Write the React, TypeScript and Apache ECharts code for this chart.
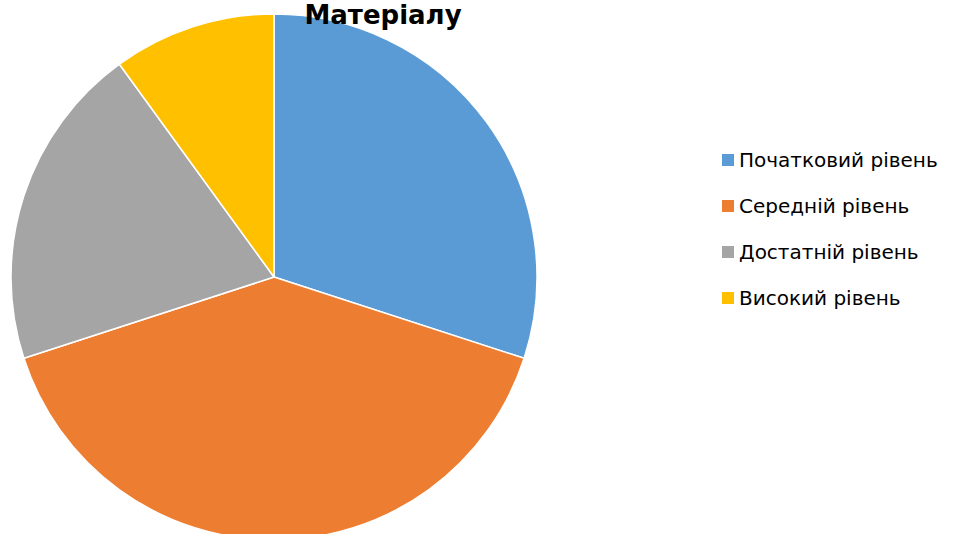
import React, { useEffect, useRef } from "react";
import * as echarts from "echarts";

const categories = ["Початковий рівень", "Середній рівень", "Достатній рівень", "Високий рівень"];
const values = [30, 40, 20, 10];
const colors = ["#5B9BD5", "#ED7D31", "#A5A5A5", "#FFC000"];
const titleText = "Матеріалу";

export default function App() {
  const ref = useRef<HTMLDivElement>(null);
  useEffect(() => {
    if (!ref.current) return;
    const chart = echarts.init(ref.current, undefined, { renderer: "svg" });
    chart.setOption({
      animation: false,
      backgroundColor: "#ffffff",
      title: {
        text: titleText,
        left: 383,
        textAlign: "center",
        top: 0,
        padding: 0,
        textStyle: { fontFamily: "DejaVu Sans", fontWeight: "bold", fontSize: 26, lineHeight: 30, color: "#000000" },
      },
      legend: {
        orient: "vertical",
        left: 715,
        top: 145,
        itemWidth: 14,
        itemHeight: 14,
        itemGap: 26,
        icon: "rect",
        data: categories,
        textStyle: { fontFamily: "DejaVu Sans", fontSize: 20, color: "#000000", padding: [0, 0, 0, -1] },
      },
      series: [
        {
          type: "pie",
          center: [274, 277],
          radius: 263,
          startAngle: 90,
          clockwise: true,
          label: { show: false },
          labelLine: { show: false },
          itemStyle: { borderColor: "#ffffff", borderWidth: 1.5 },
          data: categories.map((c, i) => ({ name: c, value: values[i], itemStyle: { color: colors[i] } })),
        },
      ],
    });
    return () => chart.dispose();
  }, []);
  return <div ref={ref} style={{ position: "fixed", left: 0, top: 0, width: 955, height: 534 }} />;
}
